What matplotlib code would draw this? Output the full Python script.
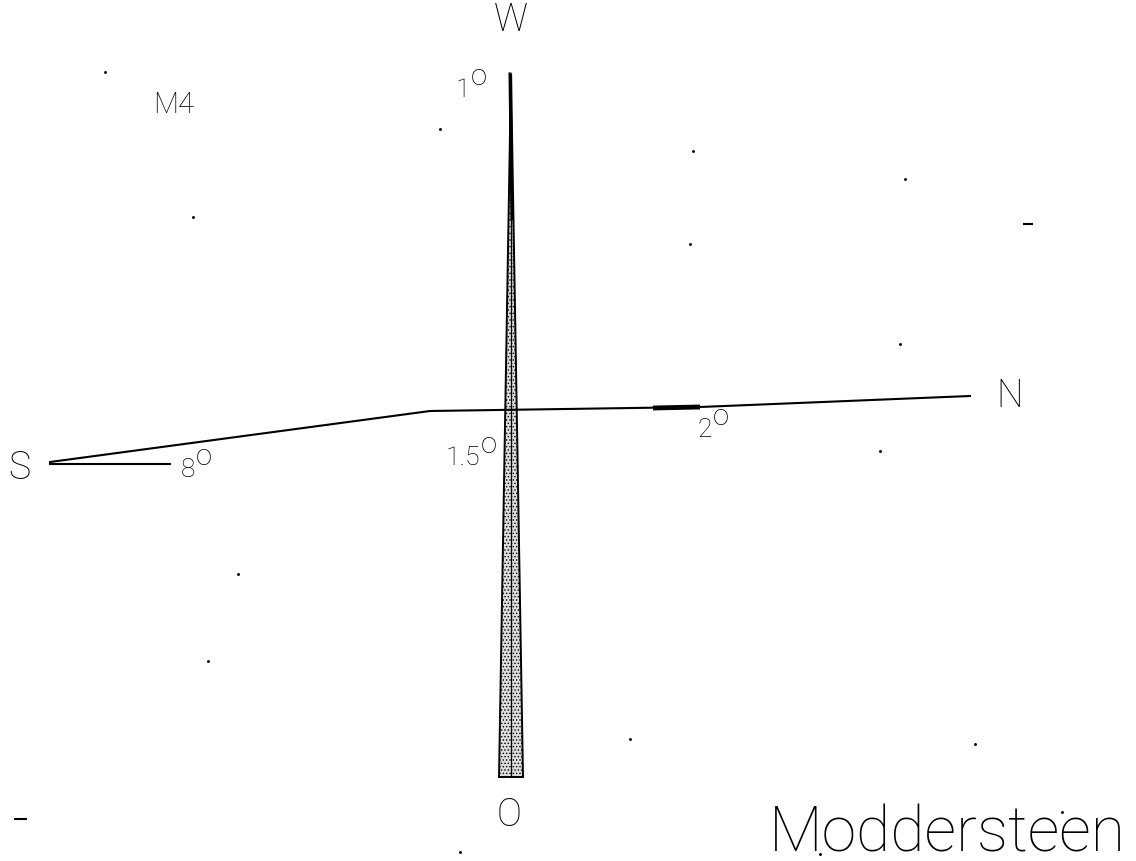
import matplotlib
matplotlib.use("Agg")
import matplotlib.pyplot as plt
from matplotlib.patches import Polygon
import numpy as np

plt.rcParams['hatch.linewidth'] = 0.6
FONT = ['Roboto', 'DejaVu Sans']
WEIGHT = 'light'

# ---- data (diagram units, origin at the crossing, y up) ----
title = "Moddersteen"
panel = "M4"
arm_labels = ["W", "N", "O", "S"]
arm_label_xy = [(1, 390), (500, 14), (-1, -405), (-491, -58)]
# vertical wedge: tip at W, wide base at O
w_tip = (1, 335)
o_base_y = -368
o_base_halfwidth = 12
# horizontal polyline from S through the centre to N
h_line_x = [-460, -80, 190, 460]
h_line_y = [-53, -2, 2, 13]
# lower horizontal edge of the S wedge
s_edge_x = [-460, -340]
s_edge_y = [-55, -55]
# thick part on the N arm
n_thick_x = [143, 190]
n_thick_y = [1, 2]
# angle annotations: (number, anchor x, anchor y)
angle_nums = ["1", "1.5", "2", "8"]
angle_xy = [(-40, 320), (-30, -48), (202, -20), (-315, -60)]
# scan specks
speck_x = [-405, -70, 183, 395, -317, 180, 390, 370, -272, -302, 120, 465, 552, -50, 310]
speck_y = [337, 280, 258, 230, 192, 165, 65, -42, -165, -252, -330, -335, -403, -443, -445]
dash_x = [(514, 522), (-495, -484)]
dash_y = [185, -410]

fig = plt.figure(figsize=(11.36, 8.62), dpi=100)
ax = fig.add_axes([0, 0, 1, 1])
ax.set_xlim(-510, 626)
ax.set_ylim(-452, 410)
ax.axis('off')

# vertical stippled wedge
poly = Polygon([w_tip, (w_tip[0] + o_base_halfwidth, o_base_y),
                (w_tip[0] - o_base_halfwidth, o_base_y)],
               closed=True, facecolor='#dcdcdc', edgecolor='black',
               hatch='.....', linewidth=1.4)
ax.add_patch(poly)
ax.plot([w_tip[0], w_tip[0]], [w_tip[1], o_base_y], color='black', lw=0.9)
ax.plot([w_tip[0] - 1, w_tip[0] + 1], [w_tip[1], 190], color='black', lw=2.2)

# horizontal arms
ax.plot(h_line_x, h_line_y, color='black', lw=1.5)
ax.plot(s_edge_x, s_edge_y, color='black', lw=1.5)
ax.plot(n_thick_x, n_thick_y, color='black', lw=3.5, solid_capstyle='butt')

# direction labels
for lab, (x, y) in zip(arm_labels, arm_label_xy):
    ax.text(x, y, lab, fontsize=27, family=FONT, fontweight=WEIGHT,
            ha='center', va='center', color='black')

# angle labels
for num, (x, y) in zip(angle_nums, angle_xy):
    ax.text(x, y, num, fontsize=19, family=FONT, fontweight=WEIGHT,
            ha='right', va='center')
    ax.text(x + 1, y + 13, "o", fontsize=21, family=FONT, fontweight=WEIGHT,
            ha='left', va='center')

ax.text(-336, 305, panel, fontsize=21, family=FONT, fontweight=WEIGHT,
        ha='center', va='center')
ax.text(616, -424, title, fontsize=45, family=FONT, fontweight=WEIGHT,
        ha='right', va='center')

ax.scatter(speck_x, speck_y, s=1.2, color='black')
for xs, y in zip(dash_x, dash_y):
    ax.plot(xs, [y, y], color='black', lw=1.5)

fig.savefig("out.png", dpi=100)
